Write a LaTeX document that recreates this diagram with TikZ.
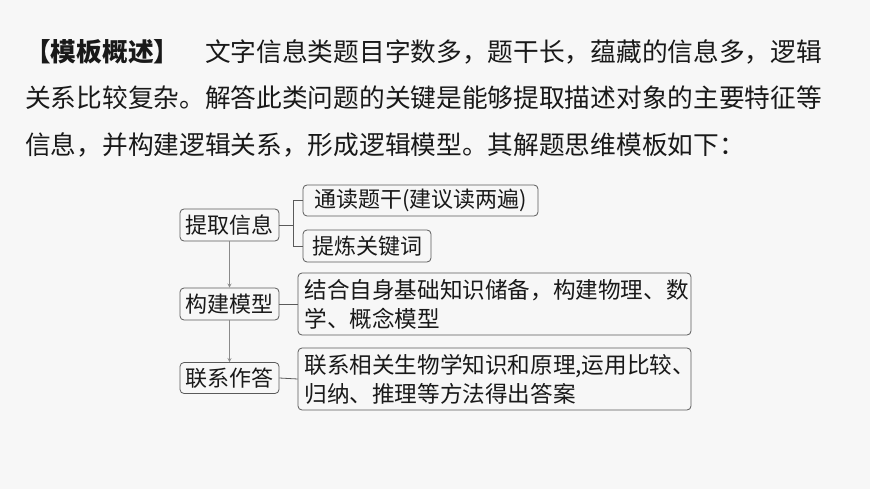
\documentclass[tikz,border=0pt]{standalone}
\usepackage{fontspec}
\setmainfont{Noto Sans CJK SC}
\usetikzlibrary{positioning}

\definecolor{boxline}{HTML}{5A5A5A}
\definecolor{arrowgray}{HTML}{8A8A8A}
\definecolor{paper}{HTML}{F7F7F7}

\begin{document}
\begin{tikzpicture}[x=1pt,y=-1pt]
      \useasboundingbox[fill=paper] (0,0) rectangle (870,489);
      \tikzset{
      TextStyle/.style = {anchor=west, inner sep=0pt, text=black!90,
        font=\fontsize{25.7}{30}\selectfont},
      BoxStyle/.style = {draw=boxline, line width=0.8pt, rounded corners=4pt,
        inner sep=0pt, text=black!90, font=\fontsize{22}{29}\selectfont},
      WideBox/.style = {BoxStyle, align=left, text width=380pt, inner xsep=6.5pt,
        minimum width=393pt, minimum height=62pt, font=\fontsize{22.6}{29}\selectfont} }

      % lead text
      \node[TextStyle] (t1) at (25,52) {\textbf{【模板概述】}\hspace{1em}文字信息类题目字数多，题干长，蕴藏的信息多，逻辑};
      \node[TextStyle] (t2) at (25,98) {关系比较复杂。解答此类问题的关键是能够提取描述对象的主要特征等};
      \node[TextStyle] (t3) at (25,145) {信息，并构建逻辑关系，形成逻辑模型。其解题思维模板如下：};

      % left column
      \node[BoxStyle, minimum width=99pt, minimum height=32pt] (l1) at (229.5,225) {提取信息};
      \node[BoxStyle, minimum width=99pt, minimum height=32pt] (l2) at (229.5,304) {构建模型};
      \node[BoxStyle, minimum width=99pt, minimum height=31pt] (l3) at (229.5,378) {联系作答};

      % right column
      \node[BoxStyle, minimum width=235pt, minimum height=31pt] (r1) at (420.5,200.5) {通读题干(建议读两遍)};
      \node[BoxStyle, minimum width=128pt, minimum height=32pt] (r2) at (367,246) {提炼关键词};
      \node[WideBox] (r3) at (494.5,304) {结合自身基础知识储备，构建物理、数\\学、概念模型};
      \node[WideBox] (r4) at (494.5,379) {联系相关生物学知识和原理,运用比较、\\归纳、推理等方法得出答案};

      \coordinate (fork) at (293,225);
      \draw[boxline, line width=0.8pt] (l1.east) -- (fork) |- (r1.west);
      \draw[boxline, line width=0.8pt] (fork) |- (r2.west);
      \draw[boxline, line width=0.8pt] (l2.east) -- (r3.west);
      \draw[boxline, line width=0.8pt] (l3.east) -- (r4.west);

      \draw[->, >=stealth, arrowgray, line width=0.8pt] (l1.south) -- (l2.north);
      \draw[->, >=stealth, arrowgray, line width=0.8pt] (l2.south) -- (l3.north);
    \end{tikzpicture}
\end{document}
